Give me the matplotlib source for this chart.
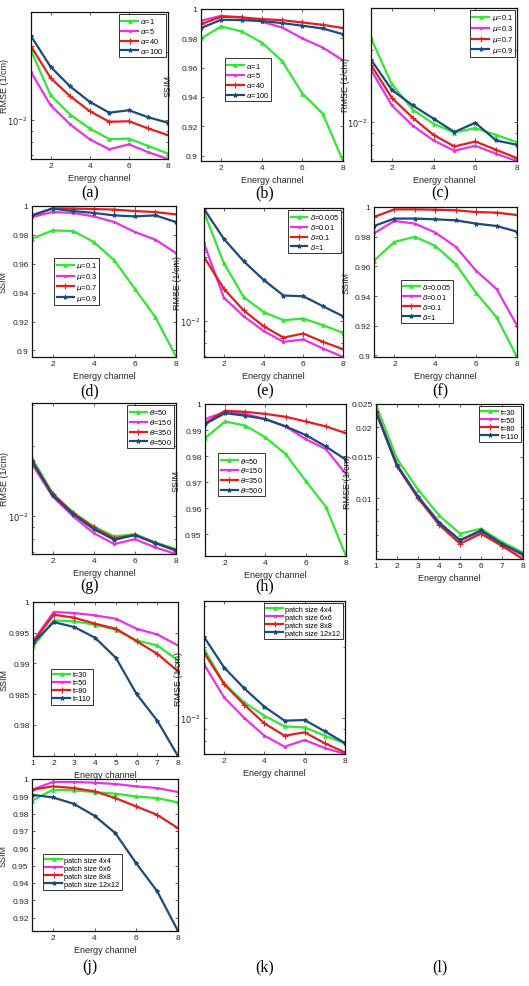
import matplotlib
matplotlib.use('Agg')
import matplotlib.pyplot as plt
from matplotlib.ticker import FixedLocator, NullFormatter, FixedFormatter

W, H = 529, 987
channels = [1, 2, 3, 4, 5, 6, 7, 8]

# ---- data (order: green, magenta, red, blue) ----
a_labels = [r'$\alpha$=1', r'$\alpha$=5', r'$\alpha$=40', r'$\alpha$=100']
a_rmse = [[0.0203, 0.01289, 0.0106, 0.0092, 0.00826, 0.0083, 0.0077, 0.00713],
          [0.0163, 0.01165, 0.00959, 0.00824, 0.00745, 0.00783, 0.00723, 0.00675],
          [0.0212, 0.01536, 0.01276, 0.01097, 0.00985, 0.0099, 0.0092, 0.0086],
          [0.0235, 0.0172, 0.0141, 0.01206, 0.0108, 0.01107, 0.0103, 0.00975]]

b_ssim = [[0.9799, 0.9881, 0.9847, 0.9771, 0.9645, 0.9423, 0.9286, 0.8963],
          [0.9920, 0.9954, 0.9943, 0.9913, 0.9874, 0.9799, 0.9737, 0.9650],
          [0.9897, 0.9947, 0.9943, 0.9931, 0.9924, 0.9908, 0.9892, 0.9870],
          [0.9870, 0.9927, 0.9924, 0.9918, 0.9904, 0.9886, 0.9867, 0.9828]]

mu_labels = [r'$\mu$=0.1', r'$\mu$=0.3', r'$\mu$=0.7', r'$\mu$=0.9']
c_rmse = [[0.0224, 0.01435, 0.01125, 0.0098, 0.0090, 0.0094, 0.0088, 0.0082],
          [0.0165, 0.0117, 0.00963, 0.00834, 0.00755, 0.00793, 0.00733, 0.00684],
          [0.0173, 0.0126, 0.01038, 0.0088, 0.00787, 0.00826, 0.00762, 0.00703],
          [0.0182, 0.0136, 0.0117, 0.0103, 0.00905, 0.0099, 0.00834, 0.0080]]

d_ssim = [[0.9774, 0.9831, 0.9827, 0.9751, 0.9624, 0.9427, 0.9230, 0.8958],
          [0.9924, 0.9958, 0.9952, 0.9928, 0.9889, 0.9820, 0.9767, 0.9674],
          [0.9935, 0.9984, 0.9982, 0.9979, 0.9975, 0.9965, 0.9958, 0.9942],
          [0.9935, 0.9982, 0.9965, 0.9952, 0.9935, 0.9928, 0.9935, 0.9889]]

delta_labels = [r'$\delta$=0.005', r'$\delta$=0.01', r'$\delta$=0.1', r'$\delta$=1']
e_rmse = [[0.0298, 0.01785, 0.0127, 0.01093, 0.01006, 0.01023, 0.00957, 0.00886],
          [0.0218, 0.01262, 0.01047, 0.00903, 0.00809, 0.00829, 0.00757, 0.00695],
          [0.0190, 0.0138, 0.0111, 0.00947, 0.00845, 0.0088, 0.00809, 0.00752],
          [0.0308, 0.0228, 0.0182, 0.0151, 0.0129, 0.0128, 0.01157, 0.01047]]

f_ssim = [[0.9638, 0.9765, 0.9799, 0.9738, 0.9615, 0.9421, 0.9257, 0.8989],
          [0.9823, 0.9906, 0.9888, 0.9828, 0.9732, 0.9570, 0.9447, 0.9201],
          [0.9933, 0.9984, 0.9984, 0.9982, 0.9978, 0.9966, 0.9962, 0.9946],
          [0.9872, 0.9922, 0.9922, 0.9917, 0.9910, 0.9888, 0.9872, 0.9834]]

theta_labels = [r'$\theta$=50', r'$\theta$=150', r'$\theta$=350', r'$\theta$=500']
g_rmse = [[0.01774, 0.01258, 0.01039, 0.00904, 0.00819, 0.00838, 0.00772, 0.00722],
          [0.01677, 0.01217, 0.00999, 0.00846, 0.00759, 0.00797, 0.00734, 0.00688],
          [0.01734, 0.01246, 0.01032, 0.00895, 0.00803, 0.0083, 0.00766, 0.0071],
          [0.01730, 0.0123, 0.01021, 0.0088, 0.00792, 0.0083, 0.00766, 0.00715]]

h_ssim = [[0.9869, 0.9933, 0.9917, 0.9872, 0.9808, 0.9705, 0.9606, 0.9417],
          [0.9942, 0.9970, 0.9962, 0.9942, 0.9914, 0.9865, 0.9827, 0.9731],
          [0.9926, 0.9974, 0.9970, 0.9962, 0.9951, 0.9933, 0.9914, 0.9888],
          [0.9923, 0.9965, 0.9955, 0.9942, 0.9914, 0.9881, 0.9837, 0.9786]]

t_labels = ['t=30', 't=50', 't=80', 't=110']
i_rmse = [[0.0248, 0.01469, 0.0109, 0.00849, 0.00711, 0.00746, 0.00656, 0.00592],
          [0.02344, 0.01385, 0.01023, 0.00796, 0.00667, 0.00723, 0.00639, 0.00576],
          [0.0232, 0.01368, 0.01004, 0.00776, 0.00645, 0.00711, 0.00631, 0.00556],
          [0.02306, 0.0138, 0.01014, 0.0079, 0.00667, 0.00734, 0.00645, 0.00582]]

jt_ssim = [[0.99275, 0.9970, 0.99684, 0.9963, 0.99548, 0.99373, 0.99292, 0.99046],
           [0.99362, 0.99837, 0.9982, 0.99782, 0.99728, 0.99564, 0.99471, 0.99292],
           [0.99346, 0.99793, 0.99744, 0.99646, 0.99564, 0.99362, 0.99155, 0.98872],
           [0.9933, 0.99673, 0.99591, 0.99417, 0.9909, 0.98501, 0.98065, 0.9749]]

patch_labels = ['patch size 4x4', 'patch size 6x6', 'patch size 8x8', 'patch size 12x12']
k_rmse = [[0.0196, 0.01402, 0.01164, 0.01022, 0.00921, 0.00912, 0.00841, 0.0078],
          [0.01692, 0.01222, 0.0100, 0.00841, 0.00755, 0.00806, 0.00745, 0.00703],
          [0.01897, 0.01392, 0.01138, 0.00948, 0.00841, 0.00869, 0.0078, 0.00714],
          [0.0221, 0.01638, 0.01335, 0.01116, 0.00974, 0.0098, 0.00877, 0.00782]]

jp_ssim = [[0.98744, 0.99382, 0.99343, 0.99246, 0.9915, 0.98995, 0.98898, 0.98647],
           [0.99382, 0.99826, 0.99826, 0.99787, 0.9971, 0.99575, 0.99478, 0.99246],
           [0.9938, 0.99575, 0.99478, 0.99285, 0.98898, 0.98415, 0.97932, 0.9716],
           [0.99092, 0.98937, 0.9857, 0.97874, 0.9687, 0.9513, 0.93527, 0.9123]]

COLORS = ['#33e633', '#e633e6', '#e02020', '#1d4a7a']
MARKERS = ['^', '.', '+', '*']
MS = [2.5, 3, 4, 3]

plt.rcParams['font.family'] = ['Liberation Sans', 'DejaVu Sans']
plt.rcParams['mathtext.fontset'] = 'dejavusans'

fig = plt.figure(figsize=(W / 100, H / 100), dpi=100)


def make_ax(box):
    l, t, r, b = box
    return fig.add_axes([l / W, 1 - b / H, (r - l) / W, (b - t) / H])


def draw(ax, box, ylab_x, series, labels, ylim, log, ylabel, legend_kw,
         yticks=None, yticklabels=None, xticks=(2, 4, 6, 8)):
    for s, lab, c, m, ms in zip(series, labels, COLORS, MARKERS, MS):
        ax.plot(channels, s, color=c, lw=1.6, marker=m, ms=ms, mew=0.8, label=lab)
    ax.set_xlim(1, 8)
    if log:
        ax.set_yscale('log')
    ax.set_ylim(*ylim)
    if log:
        minors = [v for v in [0.002, 0.003, 0.004, 0.005, 0.006, 0.007, 0.008, 0.009, 0.02, 0.03, 0.04]
                  if ylim[0] <= v <= ylim[1]]
        ax.yaxis.set_minor_locator(FixedLocator(minors))
        ax.yaxis.set_minor_formatter(NullFormatter())
    if yticks is not None:
        ax.yaxis.set_major_locator(FixedLocator(yticks))
        ax.yaxis.set_major_formatter(FixedFormatter(yticklabels))
    ax.set_xticks(list(xticks))
    ax.set_xticklabels([str(x) for x in xticks])
    ax.tick_params(which='both', direction='in', top=True, right=True,
                   labelsize=6, colors='#262626', length=2.5, width=0.5, pad=2.5)
    ax.tick_params(which='minor', length=1.5)
    for sp in ax.spines.values():
        sp.set_linewidth(0.9)
        sp.set_color('#111111')
    ax.set_xlabel('Energy channel', fontsize=6.5, color='#262626', labelpad=2.5)
    ax.set_ylabel(ylabel, fontsize=6.5, color='#262626')
    l, t, r, b = box
    ax.yaxis.set_label_coords((ylab_x - l) / (r - l), 0.5)
    leg = ax.legend(fontsize=5.3, frameon=True, fancybox=False, handlelength=2.3,
                    borderpad=0.3, labelspacing=0.12, handletextpad=0.3,
                    borderaxespad=0.3, **legend_kw)
    leg.get_frame().set_edgecolor('black')
    leg.get_frame().set_linewidth(0.7)


RM = 'RMSE (1/cm)'
log_ticks = [0.01]
log_lab = [r'$10^{-2}$']
ssim_ticks1 = [0.9, 0.92, 0.94, 0.96, 0.98, 1.0]
ssim_labs1 = ['0.9', '0.92', '0.94', '0.96', '0.98', '1']

box = (31, 13, 168, 160)
draw(make_ax(box), box, 9, a_rmse, a_labels, (0.00675, 0.030), True, RM,
     dict(loc='upper right'), log_ticks, log_lab)

box = (201, 10, 343, 162)
draw(make_ax(box), box, 173, b_ssim, a_labels, (0.8963, 1.0), False, 'SSIM',
     dict(loc='upper left', bbox_to_anchor=(0.15, 0.69)), ssim_ticks1, ssim_labs1)

box = (371, 9, 517, 162)
draw(make_ax(box), box, 350, c_rmse, mu_labels, (0.00684, 0.030), True, RM,
     dict(loc='upper right'), log_ticks, log_lab)

box = (32, 207, 176, 358)
draw(make_ax(box), box, 8, d_ssim, mu_labels, (0.8955, 1.0), False, 'SSIM',
     dict(loc='upper left', bbox_to_anchor=(0.14, 0.67)), ssim_ticks1, ssim_labs1)

box = (204, 209, 343, 358)
draw(make_ax(box), box, 182, e_rmse, delta_labels, (0.00695, 0.0311), True, RM,
     dict(loc='upper right'), log_ticks, log_lab)

box = (374, 208, 517, 358)
draw(make_ax(box), box, 351, f_ssim, delta_labels, (0.8989, 1.0), False, 'SSIM',
     dict(loc='upper left', bbox_to_anchor=(0.17, 0.53)), ssim_ticks1, ssim_labs1)

box = (32, 404, 176, 555)
draw(make_ax(box), box, 9, g_rmse, theta_labels, (0.00688, 0.0307), True, RM,
     dict(loc='upper right'), log_ticks, log_lab)

box = (205, 405, 346, 557)
draw(make_ax(box), box, 181, h_ssim, theta_labels, (0.9417, 1.0), False, 'SSIM',
     dict(loc='upper left', bbox_to_anchor=(0.08, 0.69)),
     [0.95, 0.96, 0.97, 0.98, 0.99, 1.0], ['0.95', '0.96', '0.97', '0.98', '0.99', '1'])

box = (376, 405, 523, 560)
draw(make_ax(box), box, 352, i_rmse, t_labels, (0.00556, 0.025), True, RM,
     dict(loc='upper right'),
     [0.01, 0.015, 0.02, 0.025], ['0.01', '0.015', '0.02', '0.025'], xticks=channels)

box = (33, 603, 178, 757)
draw(make_ax(box), box, 9, jt_ssim, t_labels, (0.9749, 1.0), False, 'SSIM',
     dict(loc='upper left', bbox_to_anchor=(0.11, 0.58)),
     [0.98, 0.985, 0.99, 0.995, 1.0], ['0.98', '0.985', '0.99', '0.995', '1'], xticks=channels)

box = (204, 602, 345, 755)
draw(make_ax(box), box, 183, k_rmse, patch_labels, (0.00703, 0.0314), True, RM,
     dict(loc='upper right'), log_ticks, log_lab)

box = (32, 780, 178, 932)
draw(make_ax(box), box, 8, jp_ssim, patch_labels, (0.9123, 1.0), False, 'SSIM',
     dict(loc='upper left', bbox_to_anchor=(0.06, 0.52)),
     [0.92, 0.93, 0.94, 0.95, 0.96, 0.97, 0.98, 0.99, 1.0],
     ['0.92', '0.93', '0.94', '0.95', '0.96', '0.97', '0.98', '0.99', '1'])

panel_labels = [('(a)', 90, 193), ('(b)', 265, 193), ('(c)', 440, 193),
                ('(d)', 90, 391), ('(e)', 265, 391), ('(f)', 440, 391),
                ('(g)', 90, 586), ('(h)', 265, 586),
                ('(j)', 90, 967), ('(k)', 265, 967), ('(l)', 440, 967)]
for txt, x, y in panel_labels:
    fig.text(x / W, 1 - y / H, txt, ha='center', va='center', fontsize=11.5,
             family=['Liberation Serif', 'DejaVu Serif'], color='black')

fig.savefig('out.png', dpi=100, facecolor='white')
